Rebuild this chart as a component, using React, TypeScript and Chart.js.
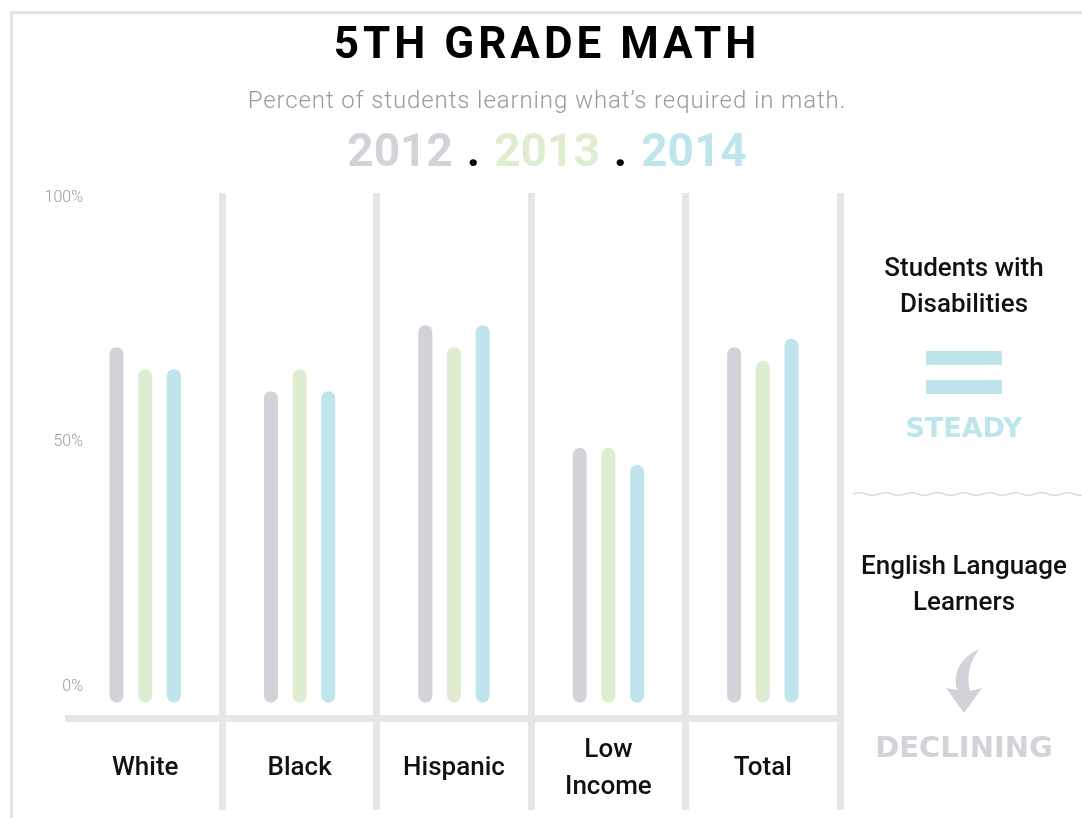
import React, { useEffect, useRef } from "react";
import { Chart, registerables } from "chart.js";

Chart.register(...registerables);

const CATEGORIES: (string | string[])[] = ["White", "Black", "Hispanic", ["Low", "Income"], "Total"];
const YEARS = ["2012", "2013", "2014"];
const VALUES_2012 = [69.5, 60.5, 74, 48.9, 69.5];
const VALUES_2013 = [65, 65, 69.5, 48.9, 66.7];
const VALUES_2014 = [65, 60.5, 74, 45.4, 71.2];
const Y_TICKS = [0, 50, 100];
const YEAR_COLORS = ["#d5d1d9", "#deedd1", "#bde5eb"];
const SEP = "#e5e6e8";

const SERIES = [VALUES_2012, VALUES_2013, VALUES_2014];

const Y_FONT = { family: "Roboto", size: 16, weight: 300 };

function wavePath(x0: number, x1: number, y: number, period: number, amp: number) {
  let d = `M ${x0} ${y}`;
  const half = period / 2;
  let x = x0;
  let up = true;
  while (x < x1) {
    d += ` Q ${x + half / 2} ${up ? y - amp * 2 : y + amp * 2} ${x + half} ${y}`;
    x += half;
    up = !up;
  }
  return d;
}

export default function App() {
  const ref = useRef<HTMLCanvasElement | null>(null);

  useEffect(() => {
    if (!ref.current) return;
    const mctx = document.createElement("canvas").getContext("2d")!;
    mctx.font = `${Y_FONT.weight} ${Y_FONT.size}px ${Y_FONT.family}`;
    const widest = Math.max(...Y_TICKS.map((v) => mctx.measureText(v + "%").width));
    const chart = new Chart(ref.current, {
      type: "bar",
      data: {
        labels: CATEGORIES as any,
        datasets: YEARS.map((y, i) => ({
          label: y,
          data: SERIES[i],
          backgroundColor: YEAR_COLORS[i],
          borderRadius: 7,
          borderSkipped: false,
          base: -3.2,
          categoryPercentage: 0.557,
          barPercentage: 0.49,
          maxBarThickness: 14,
        })) as any,
      },
      options: {
        responsive: false,
        animation: false,
        layout: { padding: { left: 28, right: 242, top: 193, bottom: 0 } },
        plugins: {
          legend: { display: false },
          tooltip: { enabled: false },
          title: { display: false },
        },
        scales: {
          x: {
            grid: {
              offset: true,
              color: (ctx: any) => (ctx.index === 0 ? "rgba(0,0,0,0)" : SEP),
              lineWidth: 7,
              drawTicks: true,
              tickLength: 92,
            },
            border: { display: true, color: SEP, width: 7 },
            ticks: {
              font: { family: "Roboto", size: 26, weight: 500, lineHeight: 1.45 },
              color: "#111",
              padding: -60,
              crossAlign: "center",
              autoSkip: false,
              maxRotation: 0,
            },
            afterFit: (s: any) => {
              s.height = 100;
            },
          },
          y: {
            min: -6.34,
            max: 101.02,
            grid: { display: false, drawTicks: false },
            border: { display: false },
            ticks: {
              mirror: true,
              crossAlign: "far",
              padding: 15 - widest,
              font: Y_FONT,
              color: "#9a9a9a",
              callback: (v: any) => v + "%",
            },
            afterBuildTicks: (s: any) => {
              s.ticks = Y_TICKS.map((v) => ({ value: v }));
            },
            afterFit: (s: any) => {
              s.width = 40;
            },
          },
        },
      } as any,
    });
    return () => chart.destroy();
  }, []);

  const abs = (o: React.CSSProperties): React.CSSProperties => ({ position: "absolute", ...o });
  const label: React.CSSProperties = {
    fontFamily: "Roboto",
    fontWeight: 500,
    fontSize: 26,
    color: "#111",
    textAlign: "center",
    lineHeight: "36px",
  };

  return (
    <div style={abs({ left: 0, top: 0, width: 1082, height: 818, overflow: "hidden", background: "#fff" })}>
      <div style={abs({ left: 10, top: 11, width: 1100, height: 840, border: "3px solid #e2e2e2", boxSizing: "border-box" })} />
      <canvas ref={ref} width={1082} height={818} style={abs({ left: 0, top: 0, display: "block" })} />
      <div
        style={abs({
          left: 6,
          top: 21,
          width: 1082,
          textAlign: "center",
          fontFamily: "Roboto",
          fontWeight: 700,
          fontSize: 44,
          lineHeight: "44px",
          letterSpacing: 4,
          color: "#000",
        })}
      >
        5TH GRADE MATH
      </div>
      <div
        style={abs({
          left: 6,
          top: 86,
          width: 1082,
          textAlign: "center",
          fontFamily: "Roboto",
          fontWeight: 300,
          fontSize: 24,
          lineHeight: "28px",
          letterSpacing: 0.9,
          color: "#9a9a9a",
        })}
      >
        Percent of students learning what’s required in math.
      </div>
      <div
        style={abs({
          left: 6,
          top: 126,
          width: 1082,
          textAlign: "center",
          fontFamily: "Roboto",
          fontWeight: 700,
          fontSize: 46,
          lineHeight: "48px",
        })}
      >
        <span style={{ color: YEAR_COLORS[0] }}>{YEARS[0]}</span>
        <span style={{ color: "#000", margin: "0 14px" }}>.</span>
        <span style={{ color: YEAR_COLORS[1] }}>{YEARS[1]}</span>
        <span style={{ color: "#000", margin: "0 14px" }}>.</span>
        <span style={{ color: YEAR_COLORS[2] }}>{YEARS[2]}</span>
      </div>

      <div style={abs({ left: 864, top: 249, width: 200, ...label })}>
        Students with
        <br />
        Disabilities
      </div>
      <div style={abs({ left: 926, top: 351, width: 76, height: 14, background: YEAR_COLORS[2] })} />
      <div style={abs({ left: 926, top: 380, width: 76, height: 14, background: YEAR_COLORS[2] })} />
      <div
        style={abs({
          left: 864,
          top: 413,
          width: 200,
          textAlign: "center",
          fontFamily: "DejaVu Sans",
          fontWeight: 700,
          fontSize: 27,
          lineHeight: "30px",
          color: YEAR_COLORS[2],
        })}
      >
        STEADY
      </div>
      <svg width={1082} height={818} style={abs({ left: 0, top: 0 })}>
        <path d={wavePath(853, 1082, 494, 26, 1.3)} fill="none" stroke="#dcdcdc" strokeWidth={1.6} />
        <path
          d="M 980 649 C 962 656, 952 672, 957 690 L 946 688 L 964 713 L 982 688 L 970 691 C 966 676, 970 660, 980 649 Z"
          fill={YEAR_COLORS[0]}
        />
      </svg>
      <div style={abs({ left: 844, top: 547, width: 240, ...label })}>
        English Language
        <br />
        Learners
      </div>
      <div
        style={abs({
          left: 844,
          top: 732,
          width: 240,
          textAlign: "center",
          fontFamily: "DejaVu Sans",
          fontWeight: 700,
          fontSize: 29,
          lineHeight: "30px",
          color: YEAR_COLORS[0],
        })}
      >
        DECLINING
      </div>
    </div>
  );
}
